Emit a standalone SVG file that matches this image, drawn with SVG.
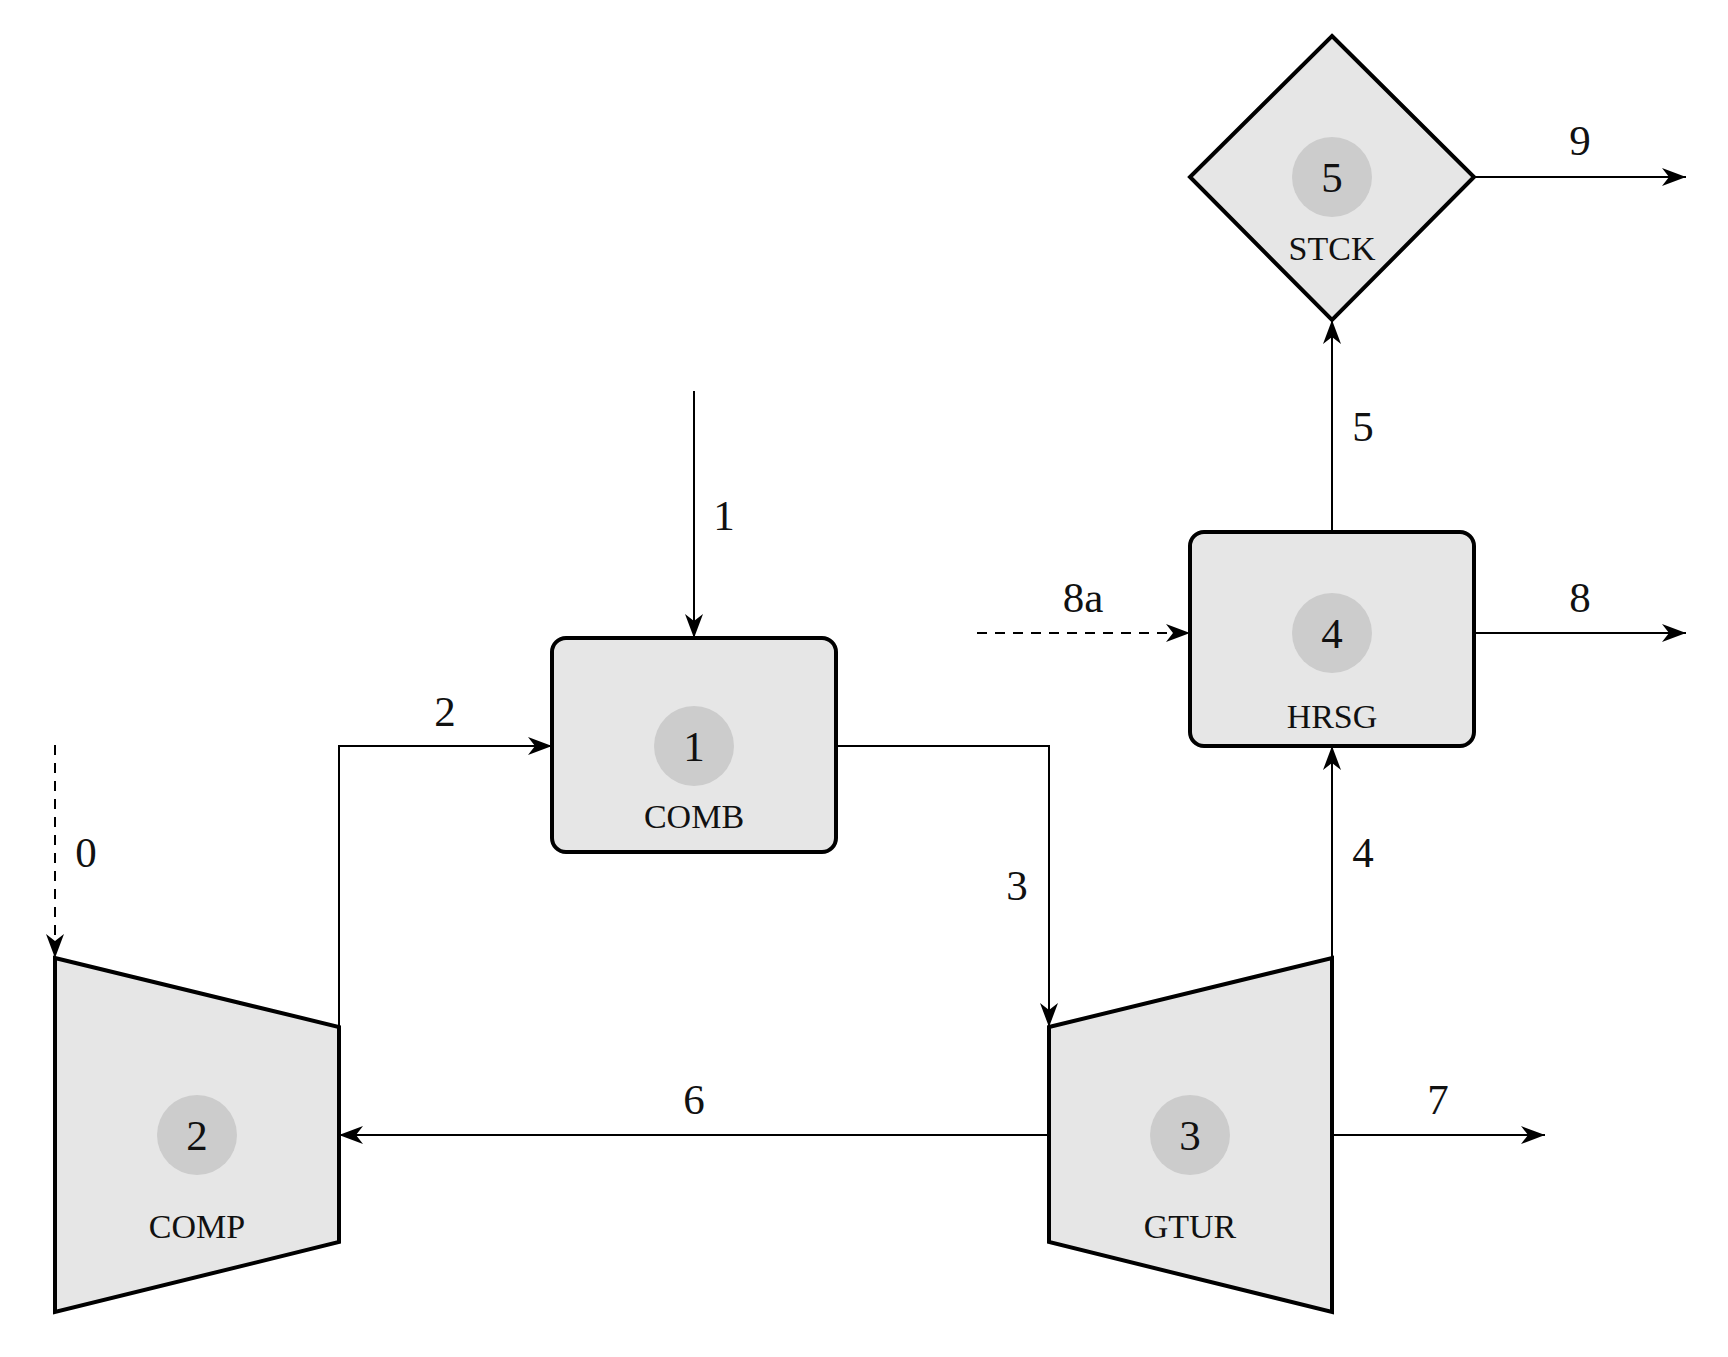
<svg xmlns="http://www.w3.org/2000/svg" width="1728" height="1357" viewBox="0 0 1728 1357">
<style>
.n{fill:#e6e6e6;stroke:#000;stroke-width:4;stroke-linejoin:miter}
.c{fill:#cccccc}
.num{font-family:"Liberation Serif","DejaVu Serif",serif;font-size:43px;text-anchor:middle;fill:#111}
.lab{font-family:"Liberation Serif","DejaVu Serif",serif;font-size:34px;text-anchor:middle;fill:#111}
.e{fill:none;stroke:#000;stroke-width:2}
.d{stroke-dasharray:10,8}
</style>
<defs>
<marker id="a" viewBox="0 0 24 18" refX="24" refY="9" markerWidth="24" markerHeight="18" markerUnits="userSpaceOnUse" orient="auto">
<path d="M0,0 L24,9 L0,18 L7,9 Z" fill="#000"/>
</marker>
</defs>
<g id="connectors">
<line class="e" x1="1474" y1="177" x2="1686" y2="177" marker-end="url(#a)"/>
<text class="num" x="1580" y="155">9</text>
<line class="e" x1="1332" y1="532" x2="1332" y2="320" marker-end="url(#a)"/>
<text class="num" x="1363" y="441">5</text>
<line class="e" x1="1474" y1="633" x2="1686" y2="633" marker-end="url(#a)"/>
<text class="num" x="1580" y="612">8</text>
<line class="e d" x1="977" y1="633" x2="1190" y2="633" marker-end="url(#a)"/>
<text class="num" x="1083" y="612">8a</text>
<line class="e" x1="694" y1="391" x2="694" y2="638" marker-end="url(#a)"/>
<text class="num" x="724" y="530">1</text>
<line class="e d" x1="55" y1="745" x2="55" y2="958" marker-end="url(#a)"/>
<text class="num" x="86" y="867">0</text>
<polyline class="e" points="339,1027 339,746 552,746" marker-end="url(#a)"/>
<text class="num" x="445" y="726">2</text>
<polyline class="e" points="836,746 1049,746 1049,1027" marker-end="url(#a)"/>
<text class="num" x="1017" y="900">3</text>
<line class="e" x1="1332" y1="958" x2="1332" y2="746" marker-end="url(#a)"/>
<text class="num" x="1363" y="867">4</text>
<line class="e" x1="1049" y1="1135" x2="339" y2="1135" marker-end="url(#a)"/>
<text class="num" x="694" y="1114">6</text>
<line class="e" x1="1332" y1="1135" x2="1545" y2="1135" marker-end="url(#a)"/>
<text class="num" x="1438" y="1114">7</text>
</g>
<g id="stck">
<polygon class="n" points="1332,36 1474,177 1332,320 1190,177"/>
<circle class="c" cx="1332" cy="177" r="40"/>
<text class="num" x="1332" y="192">5</text>
<text class="lab" x="1332" y="260">STCK</text>
</g>
<g id="hrsg">
<rect class="n" x="1190" y="532" width="284" height="214" rx="14"/>
<circle class="c" cx="1332" cy="633" r="40"/>
<text class="num" x="1332" y="648">4</text>
<text class="lab" x="1332" y="728">HRSG</text>
</g>
<g id="comb">
<rect class="n" x="552" y="638" width="284" height="214" rx="14"/>
<circle class="c" cx="694" cy="746" r="40"/>
<text class="num" x="694" y="761">1</text>
<text class="lab" x="694" y="828">COMB</text>
</g>
<g id="comp">
<polygon class="n" points="55,958 339,1027 339,1242 55,1312"/>
<circle class="c" cx="197" cy="1135" r="40"/>
<text class="num" x="197" y="1150">2</text>
<text class="lab" x="197" y="1238">COMP</text>
</g>
<g id="gtur">
<polygon class="n" points="1049,1027 1332,958 1332,1312 1049,1242"/>
<circle class="c" cx="1190" cy="1135" r="40"/>
<text class="num" x="1190" y="1150">3</text>
<text class="lab" x="1190" y="1238">GTUR</text>
</g>
</svg>
